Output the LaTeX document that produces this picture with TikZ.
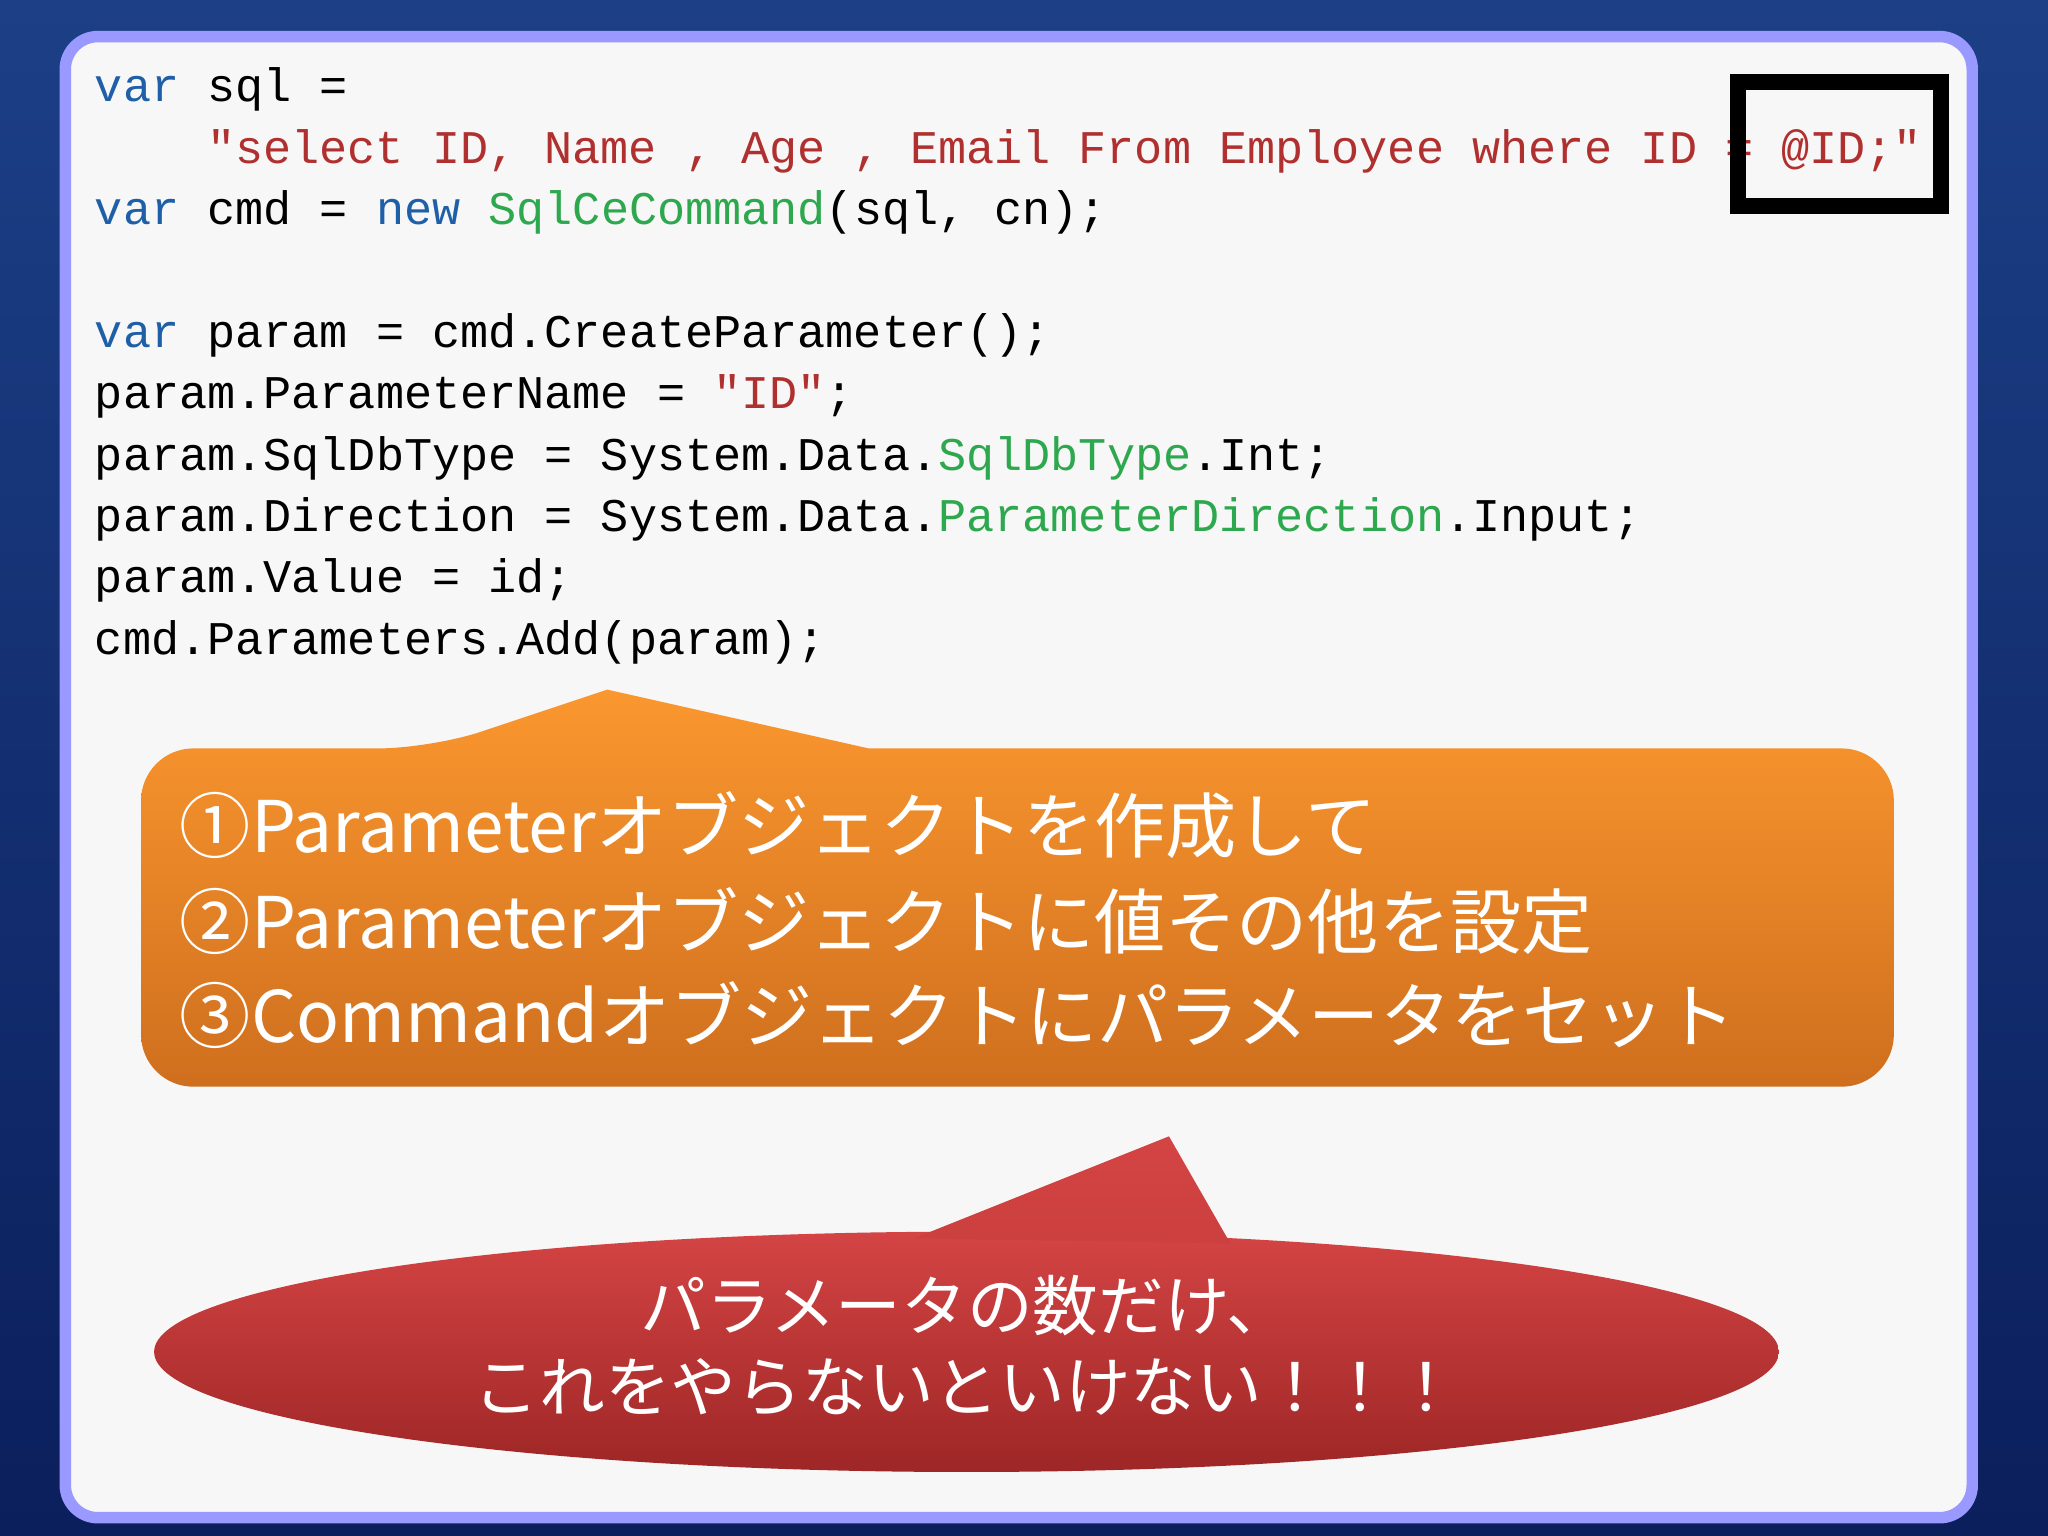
\documentclass[tikz,border=0pt]{standalone}
\usepackage{fontspec}
\setmonofont{Liberation Mono}
\newfontfamily\cjk{Noto Sans CJK JP}
\usetikzlibrary{shapes.geometric}
\definecolor{kw}{HTML}{1F5FA8}
\definecolor{st}{HTML}{B03030}
\definecolor{ty}{HTML}{2EA84E}
\definecolor{bgA}{HTML}{1C3F86}
\definecolor{bgB}{HTML}{0B1F5C}
\definecolor{orA}{HTML}{FB972F}
\definecolor{orB}{HTML}{CF6F1E}
\definecolor{rdA}{HTML}{D44444}
\definecolor{rdB}{HTML}{9E2626}
\tikzset{code/.style={anchor=base west,inner sep=0pt,font=\ttfamily\fontsize{10.2pt}{12pt}\selectfont},
 big/.style={anchor=west,inner sep=0pt,text=white,font=\cjk\fontsize{15.5pt}{18pt}\selectfont},
 red/.style={align=center,text=white,font=\cjk\fontsize{14.3pt}{17.6pt}\selectfont}}
\begin{document}
\begin{tikzpicture}[x=0.01cm,y=-0.01cm]
\shade[top color=bgA,bottom color=bgB] (0,0) rectangle (1568,1176);
\useasboundingbox (0,0) rectangle (1568,1176);
\draw[line width=2.5pt,draw=blue!40!white,fill=black!3,rounded corners=0.25cm] (50,28) rectangle (1510,1162);
\node[code] (l1) at (72,78) {\textcolor{kw}{var} sql =};
\node[code] (l2) at (158,125) {\textcolor{st}{"select ID, Name , Age , Email From Employee where ID = @ID;"}};
\node[code] (l3) at (72,172) {\textcolor{kw}{var} cmd = \textcolor{kw}{new} \textcolor{ty}{SqlCeCommand}(sql, cn);};
\node[code] (l4) at (72,266) {\textcolor{kw}{var} param = cmd.CreateParameter();};
\node[code] (l5) at (72,313) {param.ParameterName = \textcolor{st}{"ID"};};
\node[code] (l6) at (72,360) {param.SqlDbType = System.Data.\textcolor{ty}{SqlDbType}.Int;};
\node[code] (l7) at (72,407) {param.Direction = System.Data.\textcolor{ty}{ParameterDirection}.Input;};
\node[code] (l8) at (72,454) {param.Value = id;};
\node[code] (l9) at (72,501) {cmd.Parameters.Add(param);};
\draw[red,line width=3.5pt] (1331,63) rectangle (1486,158);
% orange callout
\shade[top color=orA,bottom color=orB,rounded corners=0.4cm] (108,573) -- (330,573) [sharp corners] -- (465,528) -- (665,573) [rounded corners=0.4cm] -- (1450,573) -- (1450,832) -- (108,832) -- cycle;
\node[big] (o1) at (137,632) {①Parameterオブジェクトを作成して};
\node[big] (o2) at (137,705) {②Parameterオブジェクトに値その他を設定};
\node[big] (o3) at (137,777) {③Commandオブジェクトにパラメータをセット};
% red callout
\shade[top color=rdA,bottom color=rdB] (740,1035) ellipse [x radius=622,y radius=92];
\shade[top color=rdA,bottom color=rdA!85!rdB] (700,948) -- (895,870) -- (942,952) -- cycle;
\node[red] (r) at (740,1030) {パラメータの数だけ、\\これをやらないといけない！！！};
\end{tikzpicture}
\end{document}
